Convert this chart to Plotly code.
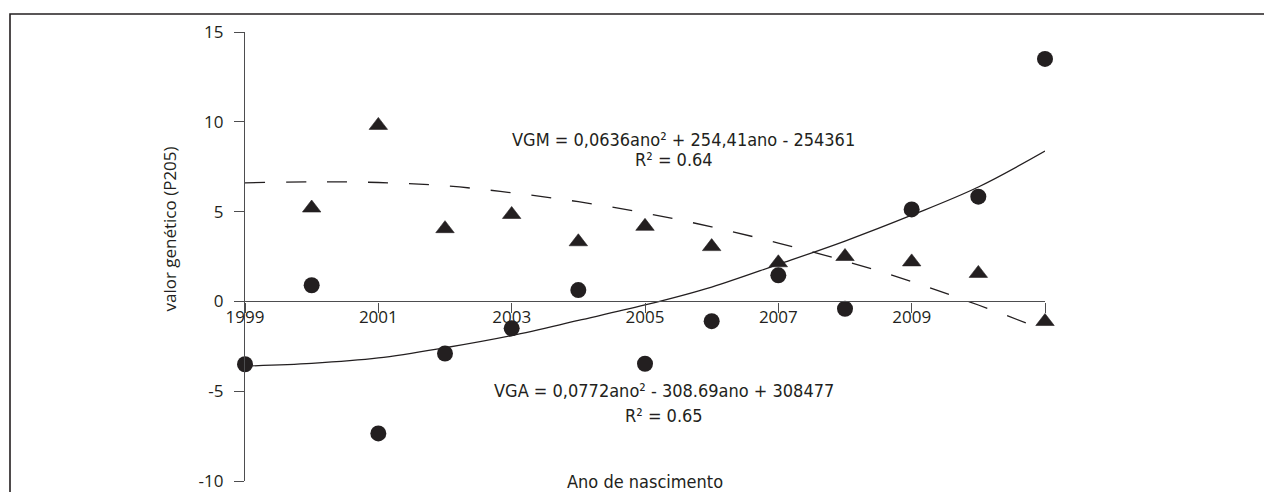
import plotly.graph_objects as go

years = [1999, 2000, 2001, 2002, 2003, 2004, 2005, 2006, 2007, 2008, 2009, 2010, 2011]
vga = [-3.5, 0.9, -7.35, -2.9, -1.5, 0.63, -3.47, -1.1, 1.45, -0.41, 5.12, 5.83, 13.5]
vgm_years = [2000, 2001, 2002, 2003, 2004, 2005, 2006, 2007, 2008, 2009, 2010, 2011]
vgm = [5.2, 9.8, 4.05, 4.84, 3.32, 4.18, 3.05, 2.15, 2.5, 2.2, 1.56, -1.12]
vga_trend = [-3.6, -3.45, -3.15, -2.58, -1.9, -1.06, -0.2, 0.8, 2.06, 3.36, 4.8, 6.37, 8.37]
vgm_trend = [6.6, 6.66, 6.62, 6.44, 6.05, 5.55, 4.92, 4.15, 3.25, 2.25, 1.1, -0.2, -1.6]
x_tickvals = [1999, 2001, 2003, 2005, 2007, 2009, 2011]
x_ticktext = ["1999", "2001", "2003", "2005", "2007", "2009", ""]
y_tickvals = [-10, -5, 0, 5, 10, 15]
y_ticktext = ["-10", "-5", "0", "5", "10", "15"]

INK = "#231f20"
AXIS = "#4d4d4f"
TICKFONT = dict(family="Open Sans", size=17, color=INK)
EQFONT = dict(family="DejaVu Sans Condensed, DejaVu Sans", size=18, color=INK)

fig = go.Figure()
fig.add_trace(go.Scatter(x=years, y=vga_trend, mode="lines", line=dict(color=INK, width=1.3, shape="spline"),
                         cliponaxis=False, hoverinfo="skip"))
fig.add_trace(go.Scatter(x=years, y=vgm_trend, mode="lines",
                         line=dict(color=INK, width=1.3, dash="20px,21px", shape="spline"),
                         cliponaxis=False, hoverinfo="skip"))
fig.add_trace(go.Scatter(x=years, y=vga, mode="markers", cliponaxis=False,
                         marker=dict(symbol="circle", size=16, color=INK, line=dict(width=0))))
fig.add_trace(go.Scatter(x=vgm_years, y=vgm, mode="markers", cliponaxis=False,
                         marker=dict(symbol="triangle-up", size=16, color=INK, line=dict(width=0.6, color=INK))))

fig.update_layout(
    width=1264, height=492,
    margin=dict(l=245, r=219, t=32, b=11, autoexpand=False),
    paper_bgcolor="white", plot_bgcolor="white",
    showlegend=False,
    xaxis=dict(range=[1999, 2011], anchor="free", position=0.4, showline=True, linecolor=AXIS, linewidth=1.3,
               ticks="outside", ticklen=10, tickwidth=1.2, tickcolor=AXIS,
               tickvals=x_tickvals, ticktext=x_ticktext, tickfont=TICKFONT, automargin=False,
               showgrid=False, zeroline=False, ticklabelstandoff=-10),
    yaxis=dict(range=[-10, 15], showline=True, linecolor=AXIS, linewidth=1.3,
               ticks="outside", ticklen=10, tickwidth=1.2, tickcolor=AXIS,
               tickvals=y_tickvals, ticktext=y_ticktext, tickfont=TICKFONT, automargin=False,
               showgrid=False, zeroline=False, ticklabelstandoff=7),
)

# outer frame
fig.add_shape(type="rect", xref="paper", yref="paper", x0=-0.29375, x1=1.5, y0=-0.3, y1=1.0401,
              line=dict(color=INK, width=1.6), fillcolor="rgba(0,0,0,0)", layer="below")

ann = [
    dict(x=2005.57, y=9.02, text="VGM = 0,0636ano² + 254,41ano - 254361", font=EQFONT),
    dict(x=2005.43, y=7.9, text="R² = 0.64", font=EQFONT),
    dict(x=2005.29, y=-4.96, text="VGA = 0,0772ano² - 308.69ano + 308477", font=EQFONT),
    dict(x=2005.29, y=-6.35, text="R² = 0.65", font=EQFONT),
    dict(x=2005.0, y=-10.0, text="Ano de nascimento", font=EQFONT),
    dict(x=2011.5, y=-0.9, text="2011", font=TICKFONT),
]
for a in ann:
    fig.add_annotation(xref="x", yref="y", showarrow=False, xanchor="center", yanchor="middle", **a)

fig.add_annotation(xref="paper", yref="y", x=-0.09375, y=4.0, text="valor genético (P205)", textangle=-90,
                   showarrow=False, xanchor="center", yanchor="middle", font=TICKFONT)

fig.write_html("out.html")
